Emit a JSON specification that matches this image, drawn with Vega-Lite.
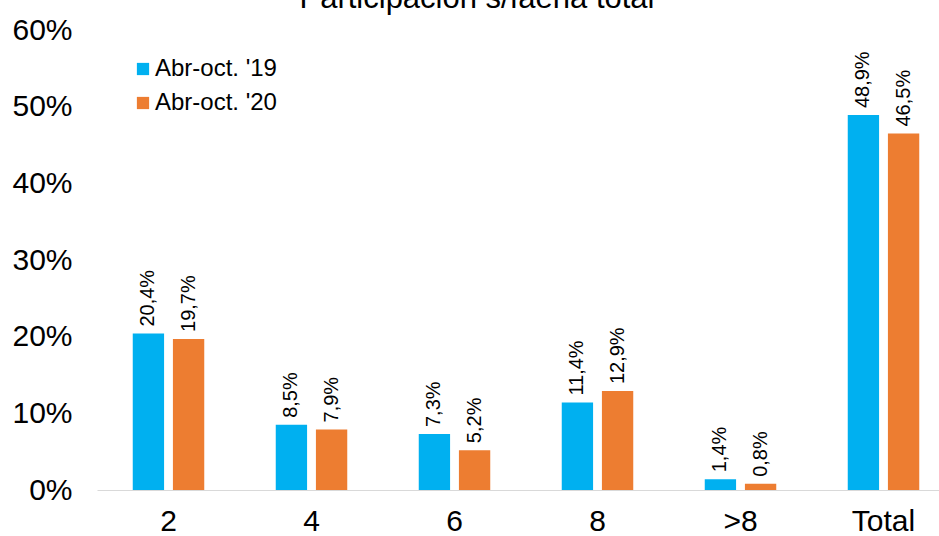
{
  "$schema": "https://vega.github.io/schema/vega-lite/v6.json",
  "width": 858,
  "height": 460,
  "autosize": "none",
  "padding": {"left": 97, "top": 30, "right": 0, "bottom": 46},
  "background": "white",
  "config": {
    "font": "Liberation Sans",
    "view": {"stroke": null},
    "locale": {"number": {"decimal": ",", "thousands": ".", "grouping": [3], "currency": ["$", ""]}}
  },
  "title": {
    "text": "Participación s/faena total",
    "fontSize": 31,
    "fontWeight": "normal",
    "color": "black",
    "anchor": "middle",
    "baseline": "alphabetic",
    "offset": -24,
    "dx": -49
  },
  "data": {
    "values": [
      {"cat": "2", "serie": "Abr-oct. '19", "v": 0.204},
      {"cat": "2", "serie": "Abr-oct. '20", "v": 0.197},
      {"cat": "4", "serie": "Abr-oct. '19", "v": 0.085},
      {"cat": "4", "serie": "Abr-oct. '20", "v": 0.079},
      {"cat": "6", "serie": "Abr-oct. '19", "v": 0.073},
      {"cat": "6", "serie": "Abr-oct. '20", "v": 0.052},
      {"cat": "8", "serie": "Abr-oct. '19", "v": 0.114},
      {"cat": "8", "serie": "Abr-oct. '20", "v": 0.129},
      {"cat": ">8", "serie": "Abr-oct. '19", "v": 0.014},
      {"cat": ">8", "serie": "Abr-oct. '20", "v": 0.008},
      {"cat": "Total", "serie": "Abr-oct. '19", "v": 0.489},
      {"cat": "Total", "serie": "Abr-oct. '20", "v": 0.465}
    ]
  },
  "encoding": {
    "x": {
      "field": "cat", "type": "nominal", "sort": null,
      "scale": {"paddingInner": 0.5, "paddingOuter": 0.25},
      "axis": {"title": null, "labelAngle": 0, "labelFontSize": 30, "labelColor": "black", "ticks": false, "domainColor": "#d9d9d9", "labelPadding": 16}
    },
    "xOffset": {"field": "serie", "type": "nominal", "scale": {"paddingInner": 0.22}},
    "y": {
      "field": "v", "type": "quantitative",
      "scale": {"domain": [0, 0.6], "nice": false},
      "axis": {"title": null, "format": ".0%", "values": [0, 0.1, 0.2, 0.3, 0.4, 0.5, 0.6], "labelOverlap": false, "grid": false, "domain": false, "ticks": false, "labelFontSize": 30, "labelColor": "black", "labelPadding": 25}
    }
  },
  "layer": [
    {
      "mark": {"type": "bar"},
      "encoding": {
        "color": {
          "field": "serie", "type": "nominal",
          "scale": {"range": ["#00B0F0", "#ED7D31"]},
          "legend": {"title": null, "orient": "none", "legendX": 34, "legendY": 27, "symbolType": "square", "symbolSize": 150, "symbolStrokeWidth": 0, "labelFontSize": 24, "labelColor": "black", "rowPadding": 10, "labelOffset": 0}
        }
      }
    },
    {
      "mark": {"type": "text", "angle": 270, "align": "left", "baseline": "middle", "dx": 7, "fontSize": 20, "color": "black"},
      "encoding": {
        "text": {"field": "v", "type": "quantitative", "format": ".1%"}
      }
    }
  ]
}
